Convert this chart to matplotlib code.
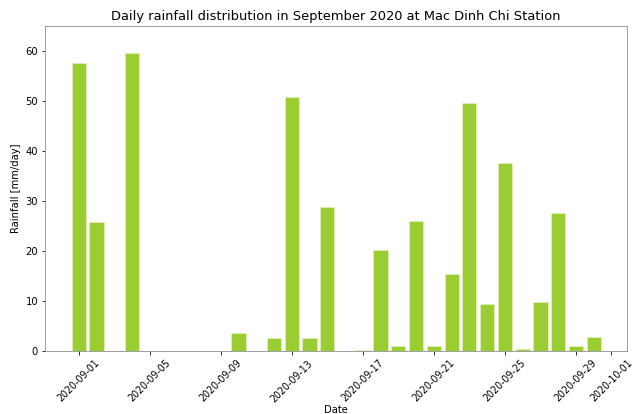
import matplotlib
matplotlib.use('Agg')
import matplotlib.pyplot as plt
import matplotlib.dates as mdates
import pandas as pd

# Daily rainfall, September 2020
dates = pd.date_range('2020-09-01', '2020-09-30', freq='D')
rainfall = [57.7, 25.8, 0.0, 59.6, 0.0, 0.0, 0.0, 0.0, 0.0, 3.6,
            0.0, 2.7, 50.9, 2.7, 28.9, 0.0, 0.2, 20.3, 1.0, 26.1,
            1.0, 15.5, 49.6, 9.4, 37.6, 0.5, 9.8, 27.6, 1.0, 2.9]

DPI = 72
fig, ax = plt.subplots(figsize=(644 / DPI, 414 / DPI), dpi=DPI)
ax.bar(dates, rainfall, color='yellowgreen', edgecolor='#e8f3c8', linewidth=0.6)

ax.set_title('Daily rainfall distribution in September 2020 at Mac Dinh Chi Station', fontsize=13)
ax.set_xlabel('Date', fontsize=10, labelpad=1)
ax.set_ylabel('Rainfall [mm/day]', fontsize=10)
ax.set_ylim(0, 65)
ax.xaxis.set_major_formatter(mdates.DateFormatter('%Y-%m-%d'))
ax.tick_params(axis='y', labelsize=10)
ax.tick_params(axis='x', labelsize=9.5)
plt.setp(ax.get_xticklabels(), rotation=45)

for s in ax.spines.values():
    s.set_color('#888888')

fig.subplots_adjust(left=0.07, right=0.974, top=0.937, bottom=0.152)
fig.savefig('out.png', dpi=DPI)
